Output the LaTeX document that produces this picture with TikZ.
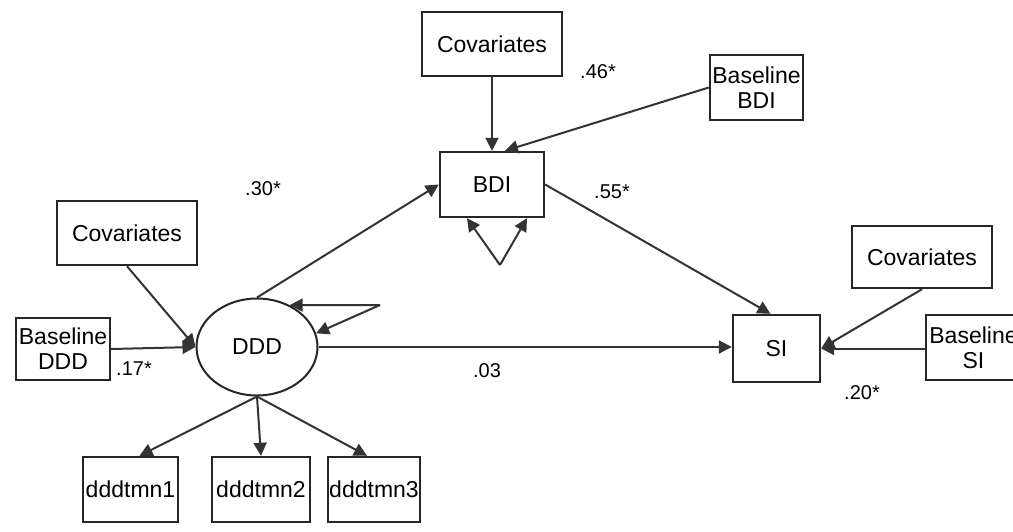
\documentclass[tikz,border=0pt]{standalone}
\usepackage{fontspec}
\setmainfont{Liberation Sans}
\usetikzlibrary{arrows.meta,shapes.geometric,calc}

\tikzset{
  box/.style={draw=black!85, line width=2.4pt, rectangle, inner sep=0pt,
    align=center, font=\fontsize{23}{25}\selectfont},
  latent/.style={draw=black!85, line width=2pt, ellipse, inner sep=0pt,
    font=\fontsize{23}{25}\selectfont},
  path/.style={draw=black!80, line width=2pt,
    -{Triangle[length=13pt,width=13pt]}},
  coef/.style={font=\fontsize{20}{22}\selectfont, inner sep=0pt}
}

\begin{document}
\begin{tikzpicture}[x=1pt,y=-1pt]
  \useasboundingbox (0,0) rectangle (1013,531);
  \clip (0,0) rectangle (1013,531);
  \fill[white] (0,0) rectangle (1013,531);

  % measurement boxes and latent factor
  \node[box, minimum width=140pt, minimum height=64pt] (covT) at (492,44) {Covariates};
  \node[box, minimum width=93pt, minimum height=65pt] (bBDI) at (756.5,87.5) {Baseline\\BDI};
  \node[box, minimum width=104pt, minimum height=65pt] (bdi) at (492,184.5) {BDI};
  \node[box, minimum width=140pt, minimum height=64pt] (covL) at (127,233) {Covariates};
  \node[box, minimum width=94pt, minimum height=62pt] (bDDD) at (63,349) {Baseline\\DDD};
  \node[latent, minimum width=121pt, minimum height=97pt] (ddd) at (257,347) {DDD};
  \node[box, minimum width=87pt, minimum height=67pt] (si) at (776.5,348.5) {SI};
  \node[box, minimum width=140pt, minimum height=62pt] (covR) at (922,257) {Covariates};
  \node[box, minimum width=95pt, minimum height=65pt] (bSI) at (973.5,347.5) {Baseline\\SI};
  \node[box, minimum width=95pt, minimum height=65pt] (d1) at (130.5,489.5) {dddtmn1};
  \node[box, minimum width=98pt, minimum height=65pt] (d2) at (261,489.5) {dddtmn2};
  \node[box, minimum width=92pt, minimum height=65pt] (d3) at (374,489.5) {dddtmn3};

  % free ends of the residual loops
  \coordinate (bdiLoop) at (500,265);
  \coordinate (dddLoop) at (380,305);

  % structural paths
  \draw[path] (covT.south) -- (bdi.north);
  \draw[path] (bBDI.west) -- ($(bdi.north)+(13,0)$);
  \draw[path] (ddd.north) -- (bdi.west);
  \draw[path] (bdi.east) -- ($(si.north)+(-6,0)$);
  \draw[path] (ddd.east) -- (ddd.east -| si.west);
  \draw[path] (covR.south) -- (si.east);
  \draw[path] (bSI.west |- si.east) -- (si.east);
  \draw[path] (covL.south) -- (ddd.west);
  \draw[path] (bDDD.east) -- (ddd.west);

  % residual loops
  \draw[path] (bdiLoop) -- ($(bdi.south)+(-25,0)$);
  \draw[path] (bdiLoop) -- ($(bdi.south)+(35,0)$);
  \draw[path] (dddLoop) -- (ddd.52);
  \draw[path] (dddLoop) -- (ddd.13);

  % indicators
  \draw[path] (ddd.south) -- ($(d1.north)+(9,0)$);
  \draw[path] (ddd.south) -- (d2.north);
  \draw[path] (ddd.south) -- ($(d3.north)+(-7,0)$);

  % coefficients
  \node[coef] (c46) at (598,72) {.46*};
  \node[coef] (c30) at (263,189) {.30*};
  \node[coef] (c55) at (612,192) {.55*};
  \node[coef] (c17) at (134,369) {.17*};
  \node[coef] (c03) at (487,371) {.03};
  \node[coef] (c20) at (862,393) {.20*};
\end{tikzpicture}
\end{document}
